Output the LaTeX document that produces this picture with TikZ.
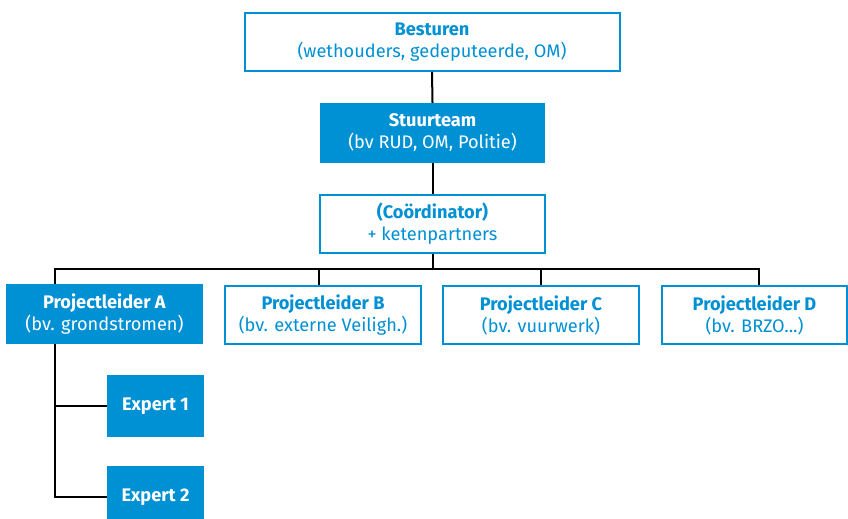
\documentclass[tikz,border=0pt]{standalone}
\usepackage{fontspec}
\setmainfont{Fira Sans}
\definecolor{rijkblauw}{RGB}{0,144,212}
\begin{document}
\begin{tikzpicture}[x=1bp,y=-1bp,
  font=\fontsize{18.2bp}{22bp}\selectfont,
  outlinebox/.style={draw=rijkblauw, line width=2bp, fill=white, text=rijkblauw,
    align=center, inner sep=0pt, minimum width=#1},
  filledbox/.style={fill=rijkblauw, text=white, align=center, inner sep=0pt,
    minimum width=#1},
  link/.style={draw=black, line width=2bp}]
\useasboundingbox (0,0) rectangle (848,519);

% top of the hierarchy
\node[outlinebox=375bp, minimum height=58bp] (bes) at (432,42)
  {\textbf{Besturen}\\(wethouders, gedeputeerde, OM)};
\node[filledbox=225bp, minimum height=60bp] (stu) at (432.5,133)
  {\textbf{Stuurteam}\\(bv RUD, OM, Politie)};
\node[outlinebox=225bp, minimum height=58bp] (coo) at (432.5,224)
  {\textbf{(Coördinator)}\\+ ketenpartners};

% project leaders
\node[filledbox=197bp, minimum height=60bp] (pa) at (104.5,314)
  {\textbf{Projectleider A}\\(bv. grondstromen)};
\node[outlinebox=196bp, minimum height=58bp] (pb) at (323,315)
  {\textbf{Projectleider B}\\(bv. externe Veiligh.)};
\node[outlinebox=196bp, minimum height=58bp] (pc) at (541,315)
  {\textbf{Projectleider C}\\(bv. vuurwerk)};
\node[outlinebox=185bp, minimum height=58bp] (pd) at (754.5,315)
  {\textbf{Projectleider D}\\(bv. BRZO...)};

% experts under project leader A
\node[filledbox=97bp, minimum height=62bp] (e1) at (155.5,406) {\textbf{Expert 1}};
\node[filledbox=97bp, minimum height=62bp] (e2) at (155.5,497) {\textbf{Expert 2}};

% connection points on the horizontal bus
\coordinate (bus) at (432.5,269);
\coordinate (ja) at (55,269);
\coordinate (jb) at (319,269);
\coordinate (jc) at (541,269);
\coordinate (jd) at (759,269);

\draw[link] (bes.south) -- (stu.north);
\draw[link] (stu.south) -- (coo.north);
\draw[link] (coo.south) -- (bus);
\draw[link] (ja |- pa.north) -- (ja) -- (jd) -- (jd |- pd.north);
\draw[link] (jb) -- (jb |- pb.north);
\draw[link] (jc) -- (jc |- pc.north);
\draw[link] (ja |- pa.south) -- (ja |- e2.west) -- (e2.west);
\draw[link] (ja |- e1.west) -- (e1.west);
\end{tikzpicture}
\end{document}
